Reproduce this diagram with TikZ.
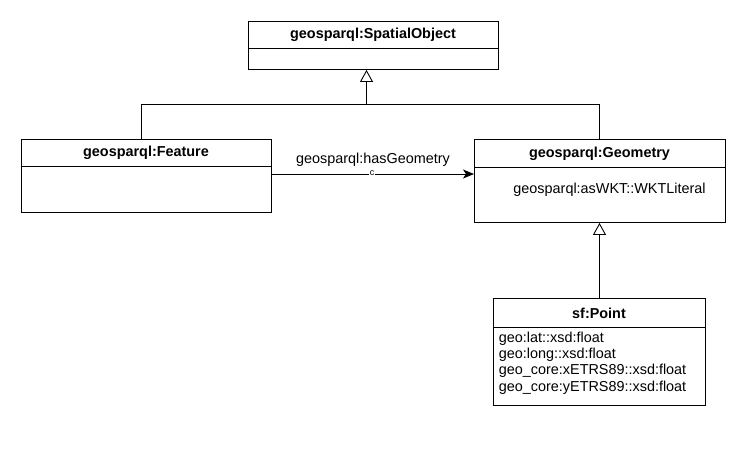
\documentclass[tikz,border=0pt]{standalone}
\usepackage{fontspec}
\setmainfont{Liberation Sans}
\usetikzlibrary{arrows.meta}
\begin{document}
\begin{tikzpicture}[x=1pt,y=-1pt,line width=0.9pt,
  cls/.style={draw, anchor=north west, inner sep=0pt, fill=white},
  ttl/.style={font=\fontsize{14.4}{16}\selectfont\bfseries, inner sep=0pt},
  txt/.style={font=\fontsize{14.4}{16}\selectfont, inner sep=0pt},
  gen/.style={-{Triangle[open,length=12pt,width=13pt,fill=white]}},
  assoc/.style={-{Stealth[length=11pt,width=9pt,inset=3pt]}}]
\useasboundingbox[fill=white] (0,0) rectangle (747,458);

% classes
\node[cls, minimum width=250pt, minimum height=48pt] (so) at (248,21) {};
\draw (so.west |- 0,48) -- (so.east |- 0,48);
\node[ttl] (sot) at (373,35) {geosparql:SpatialObject};

\node[cls, minimum width=250pt, minimum height=73pt] (feat) at (21,139) {};
\draw (feat.west |- 0,166) -- (feat.east |- 0,166);
\node[ttl] (featt) at (146,153) {geosparql:Feature};

\node[cls, minimum width=251pt, minimum height=83pt] (geom) at (474,139) {};
\draw (geom.west |- 0,167) -- (geom.east |- 0,167);
\node[ttl] (geomt) at (599.5,153.5) {geosparql:Geometry};
\node[txt] (geoma) at (609.5,190) {geosparql:asWKT::WKTLiteral};

\node[cls, minimum width=212pt, minimum height=107pt] (pt) at (493,298) {};
\draw (pt.west |- 0,327) -- (pt.east |- 0,327);
\node[ttl] (ptt) at (599,313) {sf:Point};
\node[txt, anchor=west, align=left, font=\fontsize{14.4}{16.2}\selectfont] (pta) at (498.5,363)
  {geo:lat::xsd:float\\geo:long::xsd:float\\geo\_core:xETRS89::xsd:float\\geo\_core:yETRS89::xsd:float};

% generalization
\coordinate (j) at (366.5,104);
\coordinate (fj) at (141,104);
\coordinate (gj) at (599,104);
\draw (feat.north -| fj) -- (fj) -- (gj) -- (geom.north -| gj);
\draw[gen] (j) -- (so.south -| j);
\coordinate (pj) at (599.5,260);
\draw[gen] (pt.north -| pj) -- (geom.south -| pj);

% association
\draw[assoc] (feat.east |- 0,174) -- (geom.west |- 0,174);
\node[txt] (al) at (373,160) {geosparql:hasGeometry};
\node[font=\fontsize{9}{9}\selectfont, inner sep=0.4pt, fill=white] (ac) at (372,173.2) {c};
\end{tikzpicture}
\end{document}
